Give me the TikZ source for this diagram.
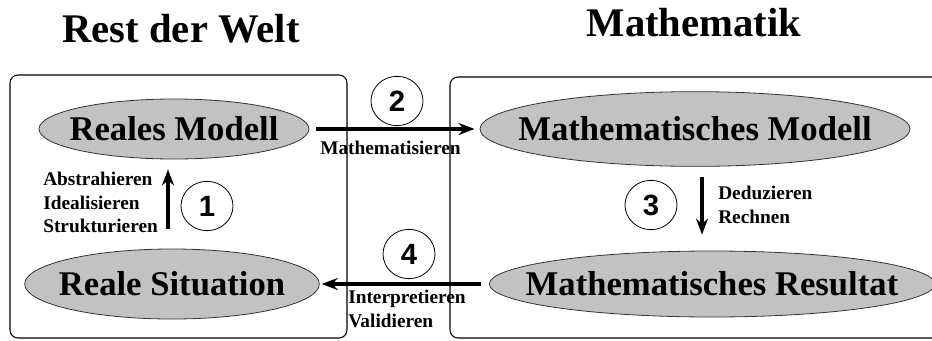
\documentclass[tikz,border=0pt]{standalone}
\usepackage{fontspec}
\setmainfont{Liberation Serif}
\newfontfamily\digitfont{Liberation Sans}
\usetikzlibrary{shapes.geometric, arrows.meta}

\begin{document}
\begin{tikzpicture}[
    x=0.75pt, y=-0.75pt,
    title/.style={anchor=base, inner sep=0pt, font=\fontsize{30.5}{36}\selectfont\bfseries},
    panel/.style={draw, line width=0.8pt, rounded corners=6pt},
    oval/.style={ellipse, draw=black!80, line width=0.6pt, fill=black!24, inner sep=0pt},
    ovaltext/.style={inner sep=0pt, font=\fontsize{26}{30}\selectfont\bfseries},
    stepno/.style={ellipse, draw, line width=0.6pt, minimum width=39pt, minimum height=37pt, inner sep=0pt, font=\digitfont\fontsize{22}{24}\selectfont\bfseries},
    note/.style={align=left, inner sep=0pt, font=\fontsize{14.5}{17.5}\selectfont\bfseries},
    flow/.style={-{Stealth[length=12pt,width=9pt]}, line width=3pt}
]
\useasboundingbox (0,0) rectangle (932,340);

% Titles
\node[title] (welt) at (181,42) {Rest der Welt};
\node[title] (mathe) at (694,36) {Mathematik};

% Panels
\draw[panel] (10,75) rectangle (347,338);
\draw[panel] (450,77) rectangle (945,338);

% Models and results
\node[oval, minimum width=202.5pt, minimum height=45pt, label={[ovaltext]center:Reales Modell}] (realmod) at (174,129) {};
\node[oval, minimum width=221pt, minimum height=52.5pt, label={[ovaltext]center:Reale Situation}] (realsit) at (172,284) {};
\node[oval, minimum width=322.5pt, minimum height=56pt, label={[ovaltext]center:Mathematisches Modell}] (mathmod) at (695,129) {};
\node[oval, minimum width=334pt, minimum height=49.5pt, label={[ovaltext]center:Mathematisches Resultat}] (mathres) at (712,284) {};

% Steps
\node[stepno] (c1) at (207,206) {1};
\node[stepno] (c2) at (397,101) {2};
\node[stepno] (c3) at (651,205) {3};
\node[stepno] (c4) at (409,254) {4};

% Arrows
\draw[flow, shorten <=15pt, shorten >=7.5pt] ([xshift=-3pt]realsit.north) -- ([xshift=-3pt]realsit.north |- realmod.south);
\draw[flow, shorten <=5pt, shorten >=3.75pt] (realmod.east) -- (realmod.east -| mathmod.west);
\draw[flow, shorten <=8pt, shorten >=12pt] ([xshift=5.25pt]mathmod.south) -- ([xshift=5.25pt]mathmod.south |- mathres.north);
\draw[flow, shorten <=6pt, shorten >=1.5pt] (mathres.west) -- (mathres.west -| realsit.east);

% Labels
\node[note, anchor=north west] (abstr) at (43,172) {Abstrahieren\\Idealisieren\\Strukturieren};
\node[note, anchor=base west] (mathlbl) at (320,154) {Mathematisieren};
\node[note, anchor=north west] (dedu) at (718,186) {Deduzieren\\Rechnen};
\node[note, anchor=north west] (interp) at (348,290) {Interpretieren\\Validieren};

\end{tikzpicture}
\end{document}
